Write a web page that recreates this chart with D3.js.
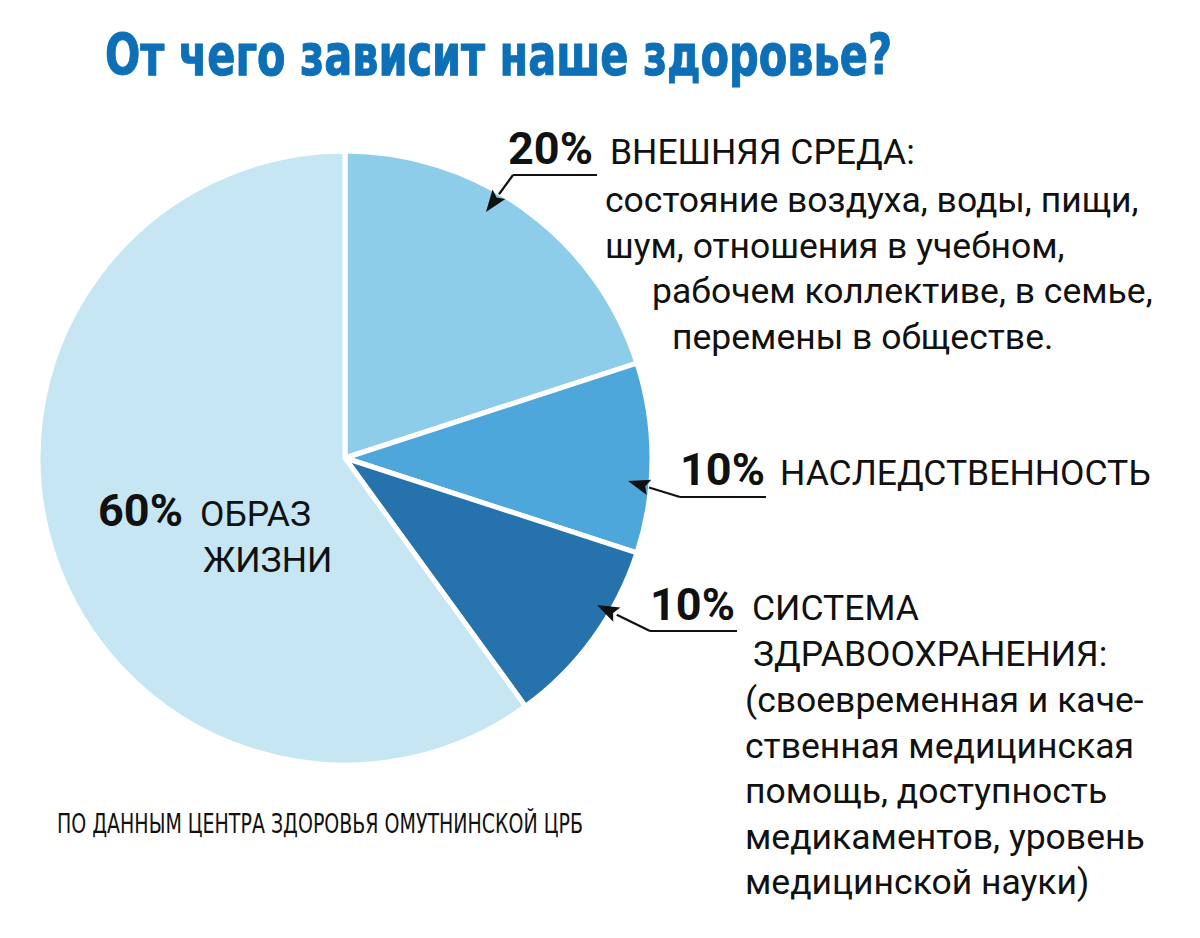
<!DOCTYPE html>
<html><head><meta charset="utf-8">
<script src="https://cdn.jsdelivr.net/npm/d3@7"></script>
<style>html,body{margin:0;padding:0;background:#fff;}</style>
</head><body>
<svg id="c" width="1200" height="938"></svg>
<script>
// ---- data ----
const categories = ["ВНЕШНЯЯ СРЕДА", "НАСЛЕДСТВЕННОСТЬ", "СИСТЕМА ЗДРАВООХРАНЕНИЯ", "ОБРАЗ ЖИЗНИ"];
const values = [20, 10, 10, 60];
const colors = ["#8ecdea", "#4ea7da", "#2672ac", "#c7e6f3"];
const title = "От чего зависит наше здоровье?";
const source = "ПО ДАННЫМ ЦЕНТРА ЗДОРОВЬЯ ОМУТНИНСКОЙ ЦРБ";
const pctLabels = values.map(v => v + "%");
const headLines = [["ВНЕШНЯЯ СРЕДА:"], ["НАСЛЕДСТВЕННОСТЬ"], ["СИСТЕМА", "ЗДРАВООХРАНЕНИЯ:"], ["ОБРАЗ", "ЖИЗНИ"]];
const descLines = [
  ["состояние воздуха, воды, пищи,", "шум, отношения в учебном,", "рабочем коллективе, в семье,", "перемены в обществе."],
  [],
  ["(своевременная и каче-", "ственная медицинская", "помощь, доступность", "медикаментов, уровень", "медицинской науки)"],
  []
];

// ---- layout ----
const svg = d3.select("#c");
const cx = 345, cy = 458, R = 307;
const bodyFont = "Roboto, 'Noto Sans', sans-serif";
const bodySize = 35.5, pctSize = 45, lineH = 45.5;

const pie = d3.pie().sort(null).value(d => d)(values);
const arc = d3.arc().innerRadius(0).outerRadius(R);

const g = svg.append("g").attr("transform", `translate(${cx},${cy})`);
g.selectAll("path").data(pie).join("path")
  .attr("d", arc)
  .attr("fill", (d, i) => colors[i])
  .attr("stroke", "#fff").attr("stroke-width", 5).attr("stroke-linejoin", "round");

// title
svg.append("text").attr("x", 105).attr("y", 75)
  .attr("font-family", "'DejaVu Sans Condensed', 'DejaVu Sans', sans-serif")
  .attr("font-weight", "bold").attr("font-size", 57).attr("fill", "#0d6fb6")
  .attr("stroke", "#0d6fb6").attr("stroke-width", 1)
  .attr("textLength", 787).attr("lengthAdjust", "spacingAndGlyphs")
  .text(title);

// source
svg.append("text").attr("x", 57).attr("y", 833)
  .attr("font-family", "'Liberation Sans Narrow', 'DejaVu Sans Condensed', sans-serif")
  .attr("font-size", 27).attr("fill", "#111")
  .attr("textLength", 526).attr("lengthAdjust", "spacingAndGlyphs")
  .text(source);

const blocks = [
  {px: 508, py: 164, hLineX: [610], dx: [605, 605, 652, 672], dy0: 212, ul: [513, 597, 175], tip: [486, 212]},
  {px: 680, py: 485, hLineX: [780], dx: [], dy0: 0, ul: [680, 766, 497], tip: [628, 481]},
  {px: 650, py: 620, hLineX: [752, 753], dx: [745, 745, 745, 745, 745], dy0: 712, ul: [650, 737, 631], tip: [597, 605]},
  {px: 98, py: 526, hLineX: [200, 203], dx: [], dy0: 0, ul: null, tip: null}
];

const ink = "#111";
blocks.forEach((b, i) => {
  svg.append("text").attr("x", b.px).attr("y", b.py)
    .attr("font-family", bodyFont).attr("font-weight", "bold")
    .attr("font-size", pctSize).attr("fill", ink).text(pctLabels[i]);
  headLines[i].forEach((t, j) => {
    svg.append("text").attr("x", b.hLineX[j]).attr("y", b.py + j * 46)
      .attr("font-family", bodyFont).attr("font-size", bodySize).attr("fill", ink).text(t);
  });
  descLines[i].forEach((t, j) => {
    svg.append("text").attr("x", b.dx[j]).attr("y", b.dy0 + j * lineH)
      .attr("font-family", bodyFont).attr("font-size", bodySize).attr("fill", ink).text(t);
  });
  if (b.ul) {
    const [x1, x2, y] = b.ul, [tx, ty] = b.tip;
    svg.append("path").attr("d", `M${x2},${y}H${x1}`).attr("stroke", ink).attr("stroke-width", 2.2).attr("fill", "none");
    const ang = Math.atan2(ty - y, tx - x1);
    const hl = 22, hw = 8;
    const bx = tx - hl * Math.cos(ang), by = ty - hl * Math.sin(ang);
    svg.append("path").attr("d", `M${x1},${y}L${bx},${by}`).attr("stroke", ink).attr("stroke-width", 2.2).attr("fill", "none");
    const nx = -Math.sin(ang), ny = Math.cos(ang);
    svg.append("path")
      .attr("d", `M${tx},${ty}L${bx + nx * hw},${by + ny * hw}L${bx + 4 * Math.cos(ang)},${by + 4 * Math.sin(ang)}L${bx - nx * hw},${by - ny * hw}Z`)
      .attr("fill", ink);
  }
});
</script>
</body></html>
